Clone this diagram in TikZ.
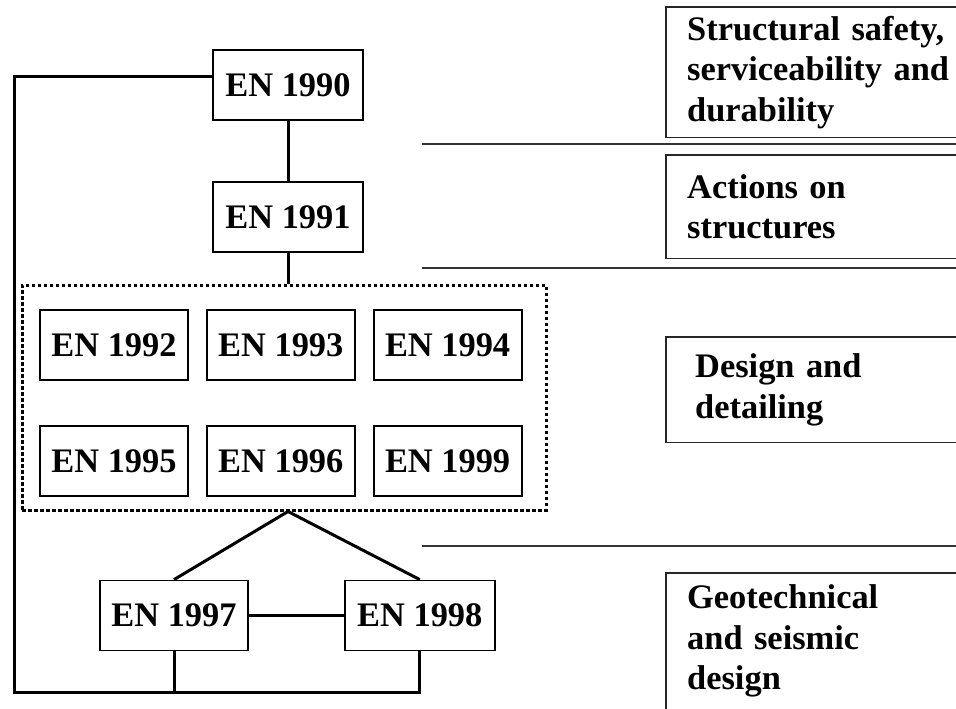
\documentclass[tikz,border=0pt]{standalone}
\usepackage{fontspec}
\setmainfont{Liberation Serif}
\usetikzlibrary{positioning}

\begin{document}
\begin{tikzpicture}[
x=1pt, y=-1pt,
node distance=44pt and 17pt,
font=\fontsize{34.4}{40.5}\selectfont\bfseries,
enbox/.style={rectangle, draw, line width=1.8pt, minimum width=148pt, minimum height=70pt, inner sep=0pt},
dottedbox/.style={rectangle, draw, line width=3pt, dash pattern=on 3.5pt off 2.5pt, minimum width=524pt, minimum height=225pt},
textbox/.style={rectangle, anchor=north west, text width=290pt, inner xsep=21pt, align=left},
frame/.style={line width=1.8pt, black!85},
link/.style={line width=3pt},
sep/.style={line width=1.8pt, black!80}
]
\useasboundingbox (0,0) rectangle (956,709);
\coordinate (edge) at (956,0);

\node[enbox, minimum width=150pt] (en1990) at (288,85) {EN 1990};
\node[enbox, minimum width=150pt, below=60pt of en1990] (en1991) {EN 1991};
\node[enbox] (en1992) at (114,345) {EN 1992};
\node[enbox, right=of en1992] (en1993) {EN 1993};
\node[enbox, right=of en1993] (en1994) {EN 1994};
\node[enbox, below=of en1992] (en1995) {EN 1995};
\node[enbox, right=of en1995] (en1996) {EN 1996};
\node[enbox, right=of en1996] (en1999) {EN 1999};
\node[dottedbox] (eurocodes) at (284,397.5) {};
\node[enbox] (en1997) at (174,615.5) {EN 1997};
\node[enbox, minimum width=150pt, right=95pt of en1997] (en1998) {EN 1998};

\node[textbox, minimum height=130pt] (safety) at (666,7) {Structural safety,\\serviceability and\\durability};
\node[textbox, minimum height=103pt] (actions) at (666,155) {Actions on\\structures};
\node[textbox, minimum height=105pt, inner xsep=29pt, text width=274pt] (design) at (666,337) {Design and\\detailing};
\node[textbox, minimum height=136pt] (geo) at (666,573) {Geotechnical\\and seismic\\design};
\foreach \n in {safety,actions,design,geo}
  \draw[frame] (\n.north west -| edge) -| (\n.south west) -- (\n.south west -| edge);

\coordinate (topleft) at (14,77);
\coordinate (botleft) at (14,692);

\draw[link] (en1990) -- (en1991);
\draw[link] (en1991) -- (en1991 |- eurocodes.north);
\draw[link] (en1991 |- eurocodes.south) -- (en1997.north);
\draw[link] (en1991 |- eurocodes.south) -- (en1998.north);
\draw[link] (en1997) -- (en1998);
\draw[link] (en1990.west |- topleft) -- (topleft) -- (botleft) -| (en1998.south);
\draw[link] (en1997.south) -- (en1997.south |- botleft);

\draw[sep] (422,144) -- (edge |- 0,144);
\draw[sep] (422,268) -- (edge |- 0,268);
\draw[sep] (422,546) -- (edge |- 0,546);
\end{tikzpicture}
\end{document}
